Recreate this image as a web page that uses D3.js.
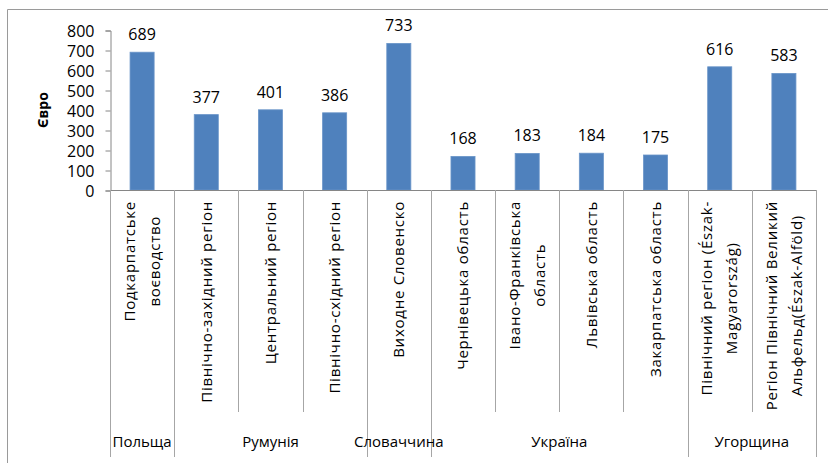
<!DOCTYPE html>
<html>
<head>
<meta charset="utf-8">
<script src="https://cdn.jsdelivr.net/npm/d3@7"></script>
<style>
  body { margin: 0; background: #fff; }
  text { font-family: "Open Sans", sans-serif; fill: #000; }
</style>
</head>
<body>
<div id="chart"></div>
<script>
var categories = [
    "Подкарпатське\nвоєводство",
    "Північно-західний  регіон",
    "Центральний регіон",
    "Північно-східний регіон",
    "Виходне Словенско",
    "Чернівецька область",
    "Івано-Франківська\nобласть",
    "Львівська область",
    "Закарпатська область",
    "Північний регіон (Észak-\nMagyarország)",
    "Регіон Північний Великий\nАльфельд(Észak-Alföld)"
];
var values = [689, 377, 401, 386, 733, 168, 183, 184, 175, 616, 583];
var groupNames = ["Польща", "Румунія", "Словаччина", "Україна", "Угорщина"];
var groupSizes = [1, 3, 1, 4, 2];
var yTicks = [0, 100, 200, 300, 400, 500, 600, 700, 800];

var svgWidth = 828;
var svgHeight = 463;

var plot = { left: 110, right: 816, top: 30, bottom: 190 };

var svg = d3.select("#chart")
    .append("svg")
    .attr("width", svgWidth)
    .attr("height", svgHeight);

// outer frame (only top and left edges visible)
svg.append("path")
    .attr("d", "M7.5,463 V9.5 H828")
    .attr("fill", "none")
    .attr("stroke", "#9a9a9a")
    .attr("stroke-width", 1);

var x = d3.scaleBand()
    .domain(categories)
    .range([plot.left, plot.right])
    .paddingInner(0)
    .paddingOuter(0);

var y = d3.scaleLinear()
    .domain([0, 800])
    .range([plot.bottom, plot.top]);

// y axis
var yAxis = d3.axisLeft(y)
    .tickValues(yTicks)
    .tickSize(5)
    .tickPadding(11);

var yg = svg.append("g")
    .attr("transform", `translate(${plot.left + 0.5}, 0.5)`)
    .call(yAxis);
yg.select(".domain").attr("stroke", "#868686");
yg.selectAll(".tick line").attr("stroke", "#868686");
yg.selectAll(".tick text")
    .attr("font-size", "16px")
    .attr("font-family", "Open Sans, sans-serif")
    .attr("dy", "0.35em");

svg.append("text")
    .attr("transform", `translate(48, ${(plot.top + plot.bottom) / 2}) rotate(-90)`)
    .attr("text-anchor", "middle")
    .attr("font-size", "14px")
    .attr("font-weight", "bold")
    .text("Євро");

// bars
var barW = x.bandwidth() * 0.375;
svg.append("g")
    .selectAll("rect")
    .data(values)
    .enter()
    .append("rect")
    .attr("x", (d, i) => x(categories[i]) + (x.bandwidth() - barW) / 2)
    .attr("y", d => y(d))
    .attr("width", barW)
    .attr("height", d => y(0) - y(d))
    .attr("fill", "#4f81bd")
    .attr("stroke", "#6a95c9")
    .attr("stroke-width", 0.8);

// value labels
svg.append("g")
    .selectAll("text")
    .data(values)
    .enter()
    .append("text")
    .attr("x", (d, i) => x(categories[i]) + x.bandwidth() / 2)
    .attr("y", d => y(d) - 12)
    .attr("text-anchor", "middle")
    .attr("font-size", "16px")
    .text(d => d);

// category axis line
svg.append("line")
    .attr("x1", plot.left)
    .attr("x2", plot.right)
    .attr("y1", plot.bottom + 0.5)
    .attr("y2", plot.bottom + 0.5)
    .attr("stroke", "#868686");

// separators: group boundaries go deeper
var groupBounds = [0];
groupSizes.forEach(function (s) { groupBounds.push(groupBounds[groupBounds.length - 1] + s); });

var sepX = categories.map(c => x(c)).concat([plot.right]);
svg.append("g")
    .selectAll("line")
    .data(sepX)
    .enter()
    .append("line")
    .attr("x1", d => Math.round(d) + 0.5)
    .attr("x2", d => Math.round(d) + 0.5)
    .attr("y1", plot.bottom)
    .attr("y2", (d, i) => groupBounds.indexOf(i) >= 0 ? 457 : 412)
    .attr("stroke", "#a6a6a6");

// category labels, rotated
var labelTop = 201;
var lineGap = 25;
var catG = svg.append("g");
categories.forEach(function (c, i) {
    var lines = c.split("\n");
    var cx = x(c) + x.bandwidth() / 2;
    var g = catG.append("g");
    var texts = lines.map(function (ln, j) {
        return g.append("text")
            .attr("font-size", "15px")
            .attr("letter-spacing", "0.75px")
            .attr("text-anchor", "middle")
            .attr("dy", "0.35em")
            .text(ln);
    });
    var maxLen = d3.max(texts, t => t.node().getComputedTextLength());
    var cy = labelTop + maxLen / 2;
    texts.forEach(function (t, j) {
        var off = (j - (lines.length - 1) / 2) * lineGap;
        t.attr("transform", `translate(${cx + off}, ${cy}) rotate(-90)`);
    });
});

// group labels
svg.append("g")
    .selectAll("text")
    .data(groupNames)
    .enter()
    .append("text")
    .attr("x", (d, i) => (sepX[groupBounds[i]] + sepX[groupBounds[i + 1]]) / 2)
    .attr("y", 447)
    .attr("text-anchor", "middle")
    .attr("font-size", "15px")
    .text(d => d);
</script>
</body>
</html>
